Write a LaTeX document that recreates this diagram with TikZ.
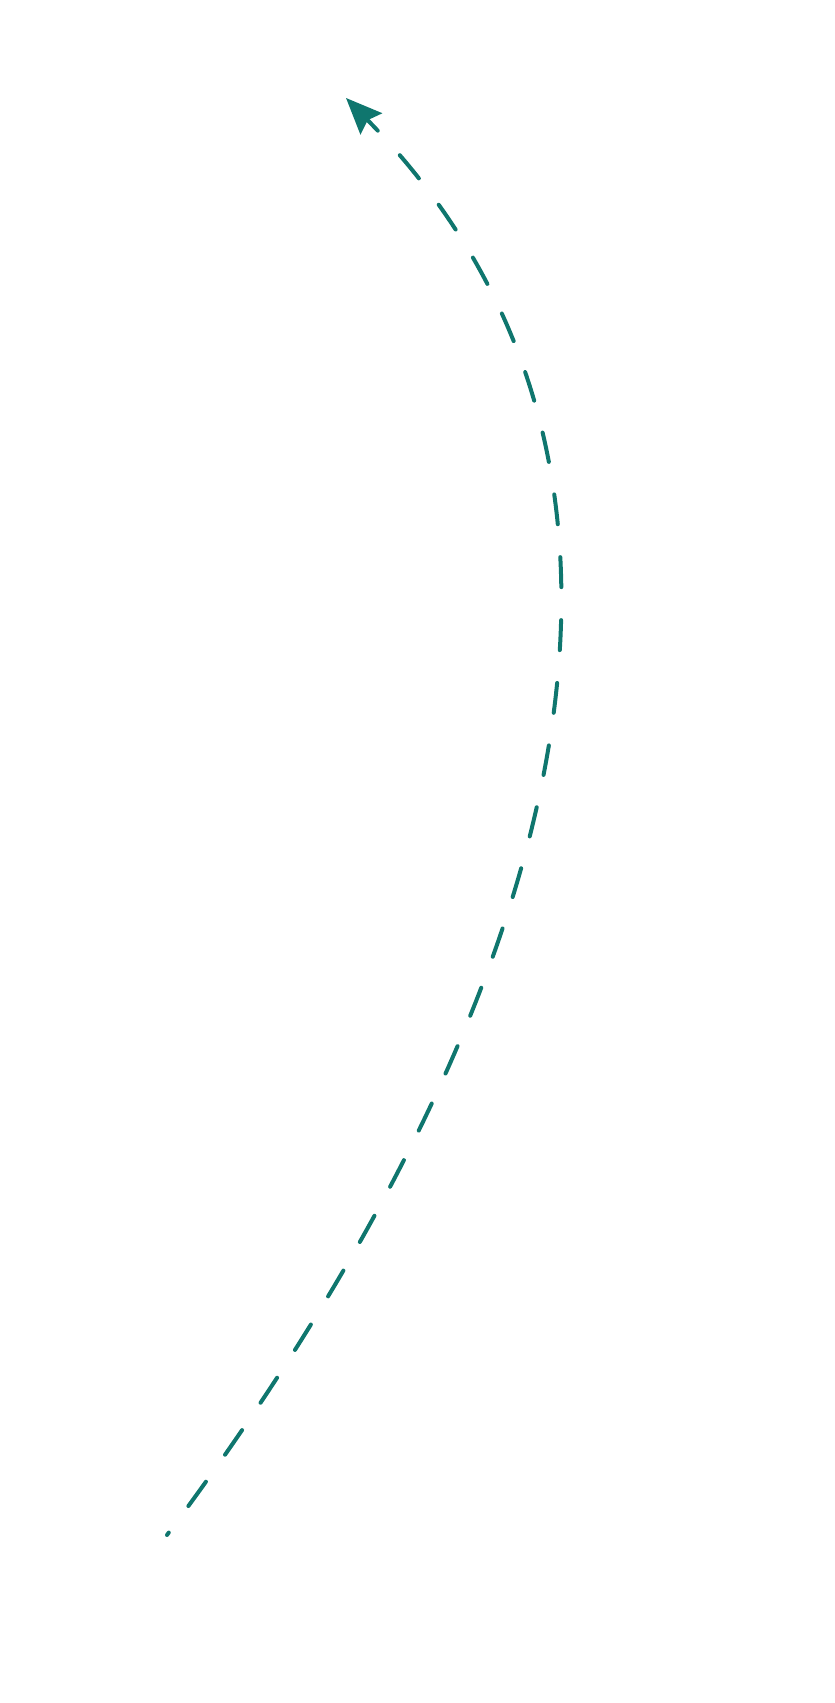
\documentclass[tikz,border=0pt]{standalone}
\usepackage{xcolor}
\usepackage{tikz}
\usetikzlibrary{arrows.meta}
\definecolor{pathteal}{RGB}{15,118,110}

\begin{document}
\begin{tikzpicture}[x=1pt, y=1pt, >=Stealth,
    flowarrow/.style={->, draw=pathteal, line width=4pt, line cap=round,
      dash pattern=on 30pt off 33pt, dash phase=27pt,
      arrows={-Stealth[length=36pt, width=30pt, inset=5pt, fill=pathteal]}}]
        \useasboundingbox (0,0) rectangle (835,1703);
        \coordinate (start) at (167,168);
        \coordinate (tip) at (346,1605);
        \draw[flowarrow] (start) .. controls (512,630) and (746,1196) .. (tip);
      \end{tikzpicture}
\end{document}
